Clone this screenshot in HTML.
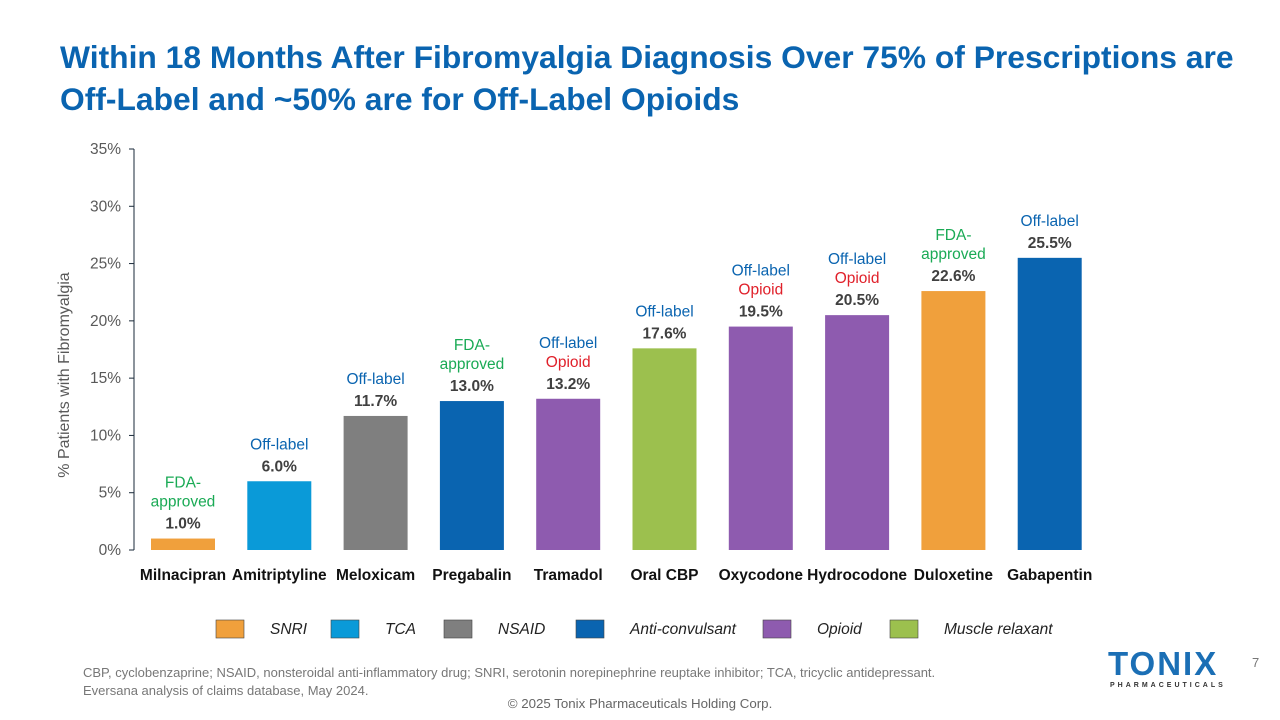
<!DOCTYPE html>
<html><head><meta charset="utf-8"><style>
body{margin:0;width:1280px;height:720px;background:#fff;font-family:"Liberation Sans",Arial,sans-serif;overflow:hidden;position:relative}
h1{position:absolute;left:60px;top:36px;margin:0;font-size:31.8px;line-height:42px;color:#0A64B0;font-weight:bold;width:1220px;white-space:nowrap}
.fn{position:absolute;left:83px;top:664px;font-size:13px;color:#777;line-height:18px}
.cp{position:absolute;left:0;width:1280px;text-align:center;top:696px;font-size:13.3px;color:#666}
.pg{position:absolute;left:1252px;top:655px;font-size:13px;color:#777}
.logo{position:absolute;left:1108px;top:647px;color:#1B6FB5;font-weight:bold;font-size:33px;letter-spacing:2px;line-height:34px}
.logo small{display:block;font-size:7px;letter-spacing:3px;color:#333;line-height:9px;margin-left:2px}
</style></head><body>
<h1>Within 18 Months After Fibromyalgia Diagnosis Over 75% of Prescriptions are<br>Off-Label and ~50% are for Off-Label Opioids</h1>
<svg id="chart" width="1280" height="720" style="position:absolute;left:0;top:0"></svg>
<div class="fn">CBP, cyclobenzaprine; NSAID, nonsteroidal anti-inflammatory drug; SNRI, serotonin norepinephrine reuptake inhibitor; TCA, tricyclic antidepressant.<br>Eversana analysis of claims database, May 2024.</div>
<div class="cp">© 2025 Tonix Pharmaceuticals Holding Corp.</div>
<div class="pg">7</div>
<div class="logo">TONIX<small>PHARMACEUTICALS</small></div>
<script>
const categories=["Milnacipran","Amitriptyline","Meloxicam","Pregabalin","Tramadol","Oral CBP","Oxycodone","Hydrocodone","Duloxetine","Gabapentin"];
const values=[1.0,6.0,11.7,13.0,13.2,17.6,19.5,20.5,22.6,25.5];
const classes=["SNRI","TCA","NSAID","Anti-convulsant","Opioid","Muscle relaxant","Opioid","Opioid","SNRI","Anti-convulsant"];
const notes=[["FDA-","approved"],["Off-label"],["Off-label"],["FDA-","approved"],["Off-label","Opioid"],["Off-label"],["Off-label","Opioid"],["Off-label","Opioid"],["FDA-","approved"],["Off-label"]];
const yTicks=[0,5,10,15,20,25,30,35];
const legendItems=["SNRI","TCA","NSAID","Anti-convulsant","Opioid","Muscle relaxant"];
const colorMap={"SNRI":"#F0A03C","TCA":"#0A9AD8","NSAID":"#7F7F7F","Anti-convulsant":"#0A64B0","Opioid":"#8E5BAF","Muscle relaxant":"#9CC04E"};
const NS="http://www.w3.org/2000/svg",svg=document.getElementById('chart');
const x0=134,y0=550,ytop=149,ymax=35,step=96.3,first=183,bw=64;
const y=v=>y0-(v/ymax)*(y0-ytop);
const xc=i=>first+i*step;
function mk(t,a,txt){const e=document.createElementNS(NS,t);for(const k in a)e.setAttribute(k,a[k]);if(txt!=null)e.textContent=txt;svg.appendChild(e);return e;}
let e=mk('line',{x1:x0,y1:ytop,x2:x0,y2:y0,stroke:'#1a2a3a','stroke-width':1});

yTicks.forEach(t=>{let l=mk('line',{x1:x0-5,x2:x0,y1:y(t),y2:y(t),stroke:'#1a2a3a'});

let tx=mk('text',{x:x0-13,y:y(t)+5,'text-anchor':'end','font-size':15.5,fill:'#595959'},t+'%');
});
let yt=mk('text',{x:0,y:0,'font-size':16,fill:'#595959','text-anchor':'middle',transform:'translate(69,375) rotate(-90)'},'% Patients with Fibromyalgia');

values.forEach((v,i)=>{
 let r=mk('rect',{x:xc(i)-bw/2,y:y(v),width:bw,height:y0-y(v),fill:colorMap[classes[i]]});
 
 let vl=mk('text',{x:xc(i),y:y(v)-10,'text-anchor':'middle','font-size':15.5,'font-weight':'bold',fill:'#404040'},v.toFixed(1)+'%');
 
 const n=notes[i];
 n.forEach((s,k)=>{const yy=y(v)-32-(n.length-1-k)*19;
  const col=s==='Opioid'?'#E0202A':(s==='Off-label'?'#0A64B0':'#1AAA55');
  let nt=mk('text',{x:xc(i),y:yy,'text-anchor':'middle','font-size':15.5,fill:col},s);
  });
 let cl=mk('text',{x:xc(i),y:580,'text-anchor':'middle','font-size':15.5,'font-weight':'bold',fill:'#111'},categories[i]);
 
});
const lx=[216,331,444,576,763,890];
legendItems.forEach((s,i)=>{
 let r=mk('rect',{x:lx[i],y:620,width:28,height:18,fill:colorMap[s],stroke:'#444','stroke-width':0.6});
 
 let t=mk('text',{x:lx[i]+54,y:634,'font-size':15.5,'font-style':'italic',fill:'#222'},s);
 
});
</script>
</body></html>
